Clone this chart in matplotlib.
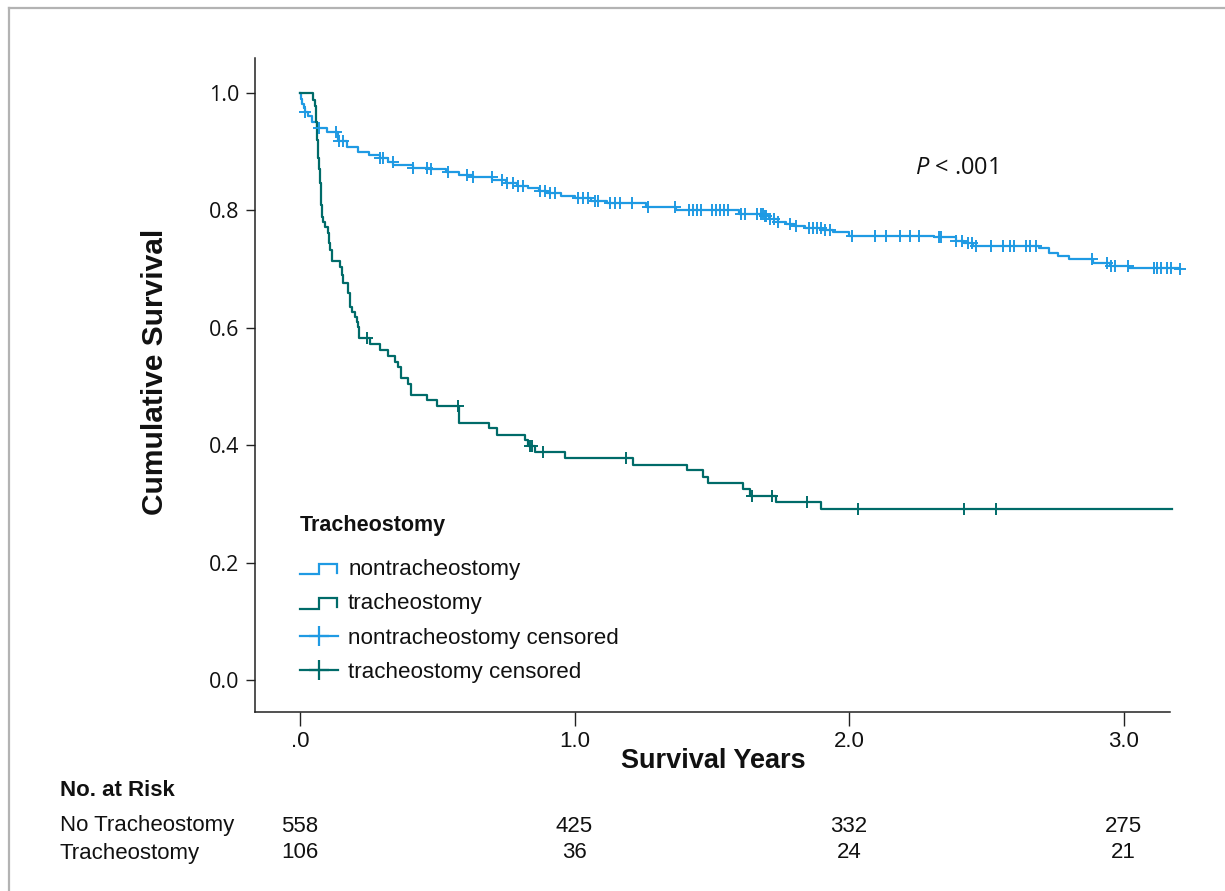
import numpy as np
import matplotlib
matplotlib.use("Agg")
import matplotlib.pyplot as plt
from matplotlib.lines import Line2D
from matplotlib.legend_handler import HandlerBase
from matplotlib import font_manager as fm
import matplotlib.transforms as mtransforms

# ---------------- data ----------------
nontrach_time = [0, 0.004, 0.008, 0.013, 0.018, 0.03, 0.045, 0.061, 0.10, 0.14,
                 0.17, 0.21, 0.25, 0.29, 0.32, 0.34, 0.41, 0.47, 0.53, 0.58,
                 0.63, 0.70, 0.75, 0.79, 0.83, 0.87, 0.90, 0.95, 1.00, 1.06,
                 1.12, 1.26, 1.37, 1.60, 1.69, 1.71, 1.74, 1.77, 1.80, 1.84,
                 1.90, 1.94, 2.00, 2.31, 2.39, 2.42, 2.45, 2.69, 2.73, 2.76,
                 2.80, 2.89, 2.95, 3.02, 3.205]
nontrach_surv = [1.0, 0.99, 0.982, 0.975, 0.968, 0.96, 0.95, 0.940, 0.933, 0.918,
                 0.908, 0.900, 0.895, 0.889, 0.883, 0.877, 0.873, 0.870, 0.866, 0.861,
                 0.857, 0.852, 0.847, 0.842, 0.838, 0.833, 0.829, 0.825, 0.821, 0.816,
                 0.812, 0.806, 0.801, 0.794, 0.790, 0.785, 0.781, 0.777, 0.773, 0.770,
                 0.766, 0.763, 0.757, 0.754, 0.748, 0.744, 0.740, 0.736, 0.727, 0.722,
                 0.718, 0.711, 0.705, 0.702, 0.700]
nontrach_censor = [0.019, 0.069, 0.130, 0.142, 0.158, 0.291, 0.301, 0.339, 0.412, 0.462,
                   0.476, 0.539, 0.607, 0.630, 0.698, 0.735, 0.753, 0.776, 0.794, 0.812,
                   0.874, 0.893, 0.911, 0.929, 1.013, 1.031, 1.049, 1.075, 1.086, 1.129,
                   1.148, 1.166, 1.209, 1.268, 1.366, 1.417, 1.432, 1.446, 1.461, 1.501,
                   1.515, 1.530, 1.545, 1.559, 1.607, 1.621, 1.665, 1.679, 1.687, 1.694,
                   1.698, 1.712, 1.727, 1.741, 1.785, 1.807, 1.854, 1.869, 1.883, 1.898,
                   1.913, 1.931, 2.011, 2.095, 2.135, 2.186, 2.222, 2.255, 2.328, 2.335,
                   2.390, 2.412, 2.434, 2.448, 2.463, 2.517, 2.561, 2.587, 2.601, 2.645,
                   2.659, 2.681, 2.885, 2.940, 2.954, 2.969, 3.016, 3.111, 3.122, 3.137,
                   3.158, 3.173, 3.205]

trach_time = [0, 0.047, 0.055, 0.058, 0.062, 0.066, 0.069, 0.073, 0.077, 0.079,
              0.084, 0.091, 0.103, 0.106, 0.109, 0.115, 0.146, 0.153, 0.158, 0.176,
              0.182, 0.188, 0.200, 0.207, 0.212, 0.215, 0.255, 0.291, 0.322, 0.346,
              0.358, 0.367, 0.395, 0.404, 0.462, 0.498, 0.579, 0.689, 0.717, 0.820,
              0.832, 0.856, 0.965, 1.214, 1.411, 1.469, 1.487, 1.613, 1.639, 1.734,
              1.898, 3.175]
trach_surv = [1.0, 0.988, 0.977, 0.95, 0.92, 0.89, 0.87, 0.847, 0.81, 0.789,
              0.78, 0.772, 0.761, 0.745, 0.733, 0.713, 0.704, 0.69, 0.676, 0.659,
              0.636, 0.627, 0.619, 0.61, 0.602, 0.582, 0.572, 0.562, 0.552, 0.542,
              0.534, 0.514, 0.505, 0.486, 0.477, 0.467, 0.437, 0.429, 0.417, 0.409,
              0.399, 0.388, 0.378, 0.367, 0.357, 0.346, 0.335, 0.325, 0.314, 0.303,
              0.291, 0.291]
trach_censor = [0.245, 0.574, 0.838, 0.846, 0.886, 1.187, 1.648, 1.718, 1.846,
                2.034, 2.419, 2.536]

x_ticks = [0, 1, 2, 3]
x_ticklabels = [".0", "1.0", "2.0", "3.0"]
y_ticks = [0.0, 0.2, 0.4, 0.6, 0.8, 1.0]
y_ticklabels = ["0.0", "0.2", "0.4", "0.6", "0.8", "1.0"]

risk_times = [0, 1, 2, 3]
risk_nontrach = [558, 425, 332, 275]
risk_trach = [106, 36, 24, 21]

legend_title = "Tracheostomy"
series_labels = ["nontracheostomy", "tracheostomy",
                 "nontracheostomy censored", "tracheostomy censored"]

# ---------------- style ----------------
BLUE = "#1f9ae3"
TEAL = "#006b69"
INK = "#111111"

names = {f.name for f in fm.fontManager.ttflist}
NARROW = "Liberation Sans Narrow" if "Liberation Sans Narrow" in names else "Liberation Sans"
SANS = "Liberation Sans"
OPEN = "Open Sans"

plt.rcParams["mathtext.fontset"] = "custom"
plt.rcParams["mathtext.it"] = "Open Sans:italic"
plt.rcParams["mathtext.rm"] = "Open Sans"

fig = plt.figure(figsize=(12.25, 8.91), dpi=100)
W, H = 1225, 891
ax = fig.add_axes([255 / W, 1 - 712 / H, (1170 - 255) / W, (712 - 58) / H])
ax.set_xlim(-0.164, 3.169)
ax.set_ylim(-0.0545, 1.0596)

for s in ["top", "right"]:
    ax.spines[s].set_visible(False)
for s in ["left", "bottom"]:
    ax.spines[s].set_color("#222222")
    ax.spines[s].set_linewidth(1.1)


def surv_at(times, surv, t):
    idx = np.searchsorted(np.asarray(times), np.asarray(t), side="right") - 1
    return np.asarray(surv)[idx]


LW = 1.6
ax.step(nontrach_time, nontrach_surv, where="post", color=BLUE, lw=LW, clip_on=False, zorder=3)
ax.step(trach_time, trach_surv, where="post", color=TEAL, lw=LW, clip_on=False, zorder=3)
ax.plot(nontrach_censor, surv_at(nontrach_time, nontrach_surv, nontrach_censor),
        ls="none", marker="+", ms=8.5, mew=1.4, color=BLUE, clip_on=False, zorder=4)
ax.plot(trach_censor, surv_at(trach_time, trach_surv, trach_censor),
        ls="none", marker="+", ms=8.5, mew=1.4, color=TEAL, clip_on=False, zorder=4)

ax.set_xticks(x_ticks)
ax.set_xticklabels(x_ticklabels)
ax.set_yticks(y_ticks)
ax.set_yticklabels(y_ticklabels)
ax.tick_params(axis="x", length=10, width=1.0, pad=4, labelsize=16, colors="#222222")
ax.tick_params(axis="y", length=6.5, width=1.0, pad=5, labelsize=15.5, colors="#222222")
for lbl in ax.get_xticklabels():
    lbl.set_fontfamily(NARROW)
    lbl.set_color(INK)
for lbl in ax.get_yticklabels():
    lbl.set_fontfamily(OPEN)
    lbl.set_color(INK)

# axis titles
fig.text(713 / W, 1 - 761 / H, "Survival Years", ha="center", va="center",
         fontsize=19.5, fontweight="bold", family=SANS, color=INK)
fig.text(155 / W, 1 - 372 / H, "Cumulative Survival", ha="center", va="center",
         rotation=90, fontsize=21.5, fontweight="bold", family=SANS, color=INK)

# P value
ax.text(2.24, 0.873, r"$P$ < .001", fontsize=17, family=OPEN, ha="left", va="center",
        color=INK)


# legend
class StepHandler(HandlerBase):
    def create_artists(self, legend, orig_handle, xdescent, ydescent, width, height,
                       fontsize, trans):
        x0 = -xdescent
        x1 = x0 + width
        xm = x0 + width * 0.5
        y0 = -ydescent
        ylow = y0 + height * 0.05
        yhigh = y0 + height * 0.70
        yend = y0 + height * 0.15
        line = Line2D([x0, xm, xm, x1 - 0.5, x1 - 0.5], [ylow, ylow, yhigh, yhigh, yend],
                      color=orig_handle.get_color(), lw=orig_handle.get_linewidth(),
                      solid_joinstyle="miter")
        line.set_transform(trans)
        return [line]


h1 = Line2D([], [], color=BLUE, lw=LW)
h2 = Line2D([], [], color=TEAL, lw=LW)
h3 = Line2D([], [], color=BLUE, lw=LW, marker="+", ms=15, mew=1.6)
h4 = Line2D([], [], color=TEAL, lw=LW, marker="+", ms=15, mew=1.6)
leg = ax.legend([h1, h2, h3, h4], series_labels,
                handler_map={h1: StepHandler(), h2: StepHandler()},
                loc="upper left", bbox_to_anchor=((300 - 255) / 915, (712 - 559) / 654),
                frameon=False, alignment="left",
                prop={"family": SANS, "size": 16.1},
                handlelength=1.7, handletextpad=0.45, labelspacing=0.6,
                borderpad=0, borderaxespad=0, numpoints=1, markerscale=1)
for t in leg.get_texts():
    t.set_color(INK)
ax.text((300 - 255) / 915, (712 - 525) / 654, legend_title, transform=ax.transAxes,
        ha="left", va="center", fontsize=15.5, fontweight="bold", family=SANS, color=INK)

# number at risk table
fig.text(60 / W, 1 - 791 / H, "No. at Risk", ha="left", va="center",
         fontsize=16, fontweight="bold", family=NARROW, color=INK)
fig.text(60 / W, 1 - 825 / H, "No Tracheostomy", ha="left", va="center",
         fontsize=16, family=NARROW, color=INK)
fig.text(60 / W, 1 - 853 / H, "Tracheostomy", ha="left", va="center",
         fontsize=16, family=NARROW, color=INK)
blend = mtransforms.blended_transform_factory(ax.transData, fig.transFigure)
for t, n1, n2 in zip(risk_times, risk_nontrach, risk_trach):
    ax.text(t, 1 - 827 / H, str(n1), transform=blend, ha="center", va="center",
            fontsize=16, family=NARROW, color=INK)
    ax.text(t, 1 - 853 / H, str(n2), transform=blend, ha="center", va="center",
            fontsize=16, family=NARROW, color=INK)

# light frame (top and left edges)
fig.add_artist(Line2D([9 / W, 1.0], [1 - 8 / H, 1 - 8 / H], transform=fig.transFigure,
                      color="#b3b3b3", lw=1.6))
fig.add_artist(Line2D([9 / W, 9 / W], [0.0, 1 - 8 / H], transform=fig.transFigure,
                      color="#b3b3b3", lw=1.6))

fig.savefig("out.png", dpi=100, facecolor="white")
